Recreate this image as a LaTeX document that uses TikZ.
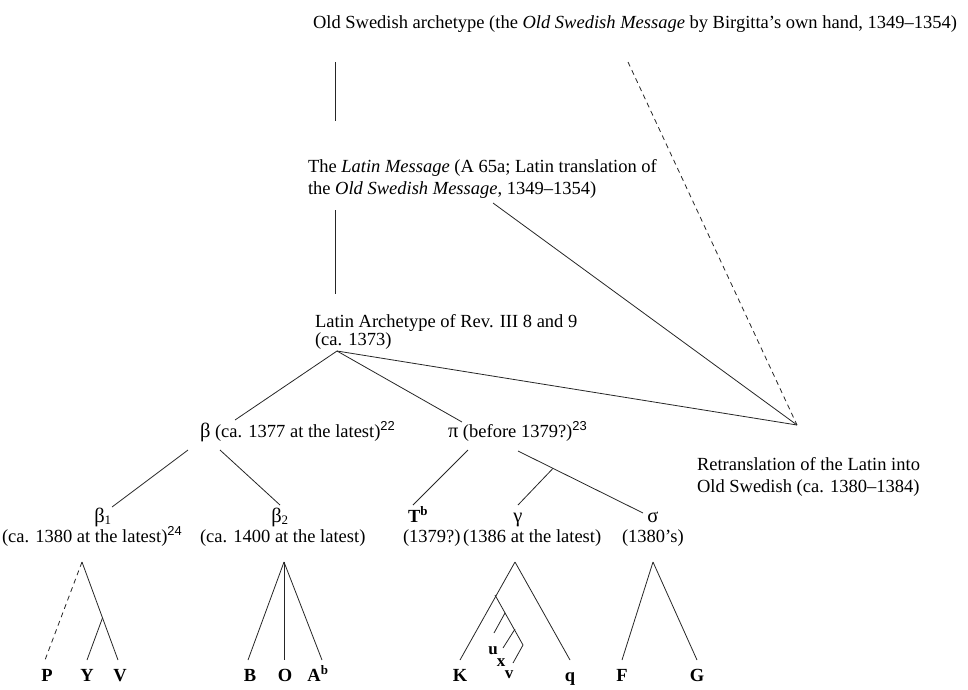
\documentclass[tikz,border=0pt]{standalone}
\usepackage{fontspec}
\setmainfont{Liberation Serif}
\newfontfamily\supfont{Liberation Sans}
\usetikzlibrary{calc}
\newcommand{\gk}[1]{{\fontsize{20.5}{22}\selectfont #1}}
\newcommand{\fn}[1]{\textsuperscript{\supfont #1}}
\begin{document}
\begin{tikzpicture}[x=1pt,y=-1pt,
  every node/.style={inner sep=0pt,outer sep=0pt},
  txt/.style={font=\fontsize{18.5}{22}\selectfont},
  leaf/.style={font=\fontsize{18.5}{20}\selectfont\bfseries,anchor=base},
  small/.style={font=\fontsize{17}{18}\selectfont\bfseries},
  ln/.style={line width=0.8pt,draw=black!85},
  dsh/.style={ln,dash pattern=on 5pt off 4pt}]
\useasboundingbox (0,0) rectangle (968,689);
% texts
\node[txt,anchor=base west] (top) at (313,28) {Old Swedish archetype (the \textit{Old Swedish Message} by Birgitta's own hand, 1349--1354)};
\node[txt,anchor=base west] (lm1) at (308,172) {The \textit{Latin Message} (A 65a; Latin translation of};
\node[txt,anchor=base west] (lm2) at (308,194) {the \textit{Old Swedish Message}, 1349--1354)};
\node[txt,anchor=base west] (la1) at (315,327) {Latin Archetype of Rev. III 8 and 9};
\node[txt,anchor=base west] (la2) at (315,345) {(ca. 1373)};
\node[txt,anchor=base west] (beta) at (200,437) {\gk{β} (ca. 1377 at the latest)\fn{22}};
\node[txt,anchor=base west] (pi) at (448,437) {\gk{π} (before 1379?)\fn{23}};
\node[txt,anchor=base west] (rt1) at (697,470) {Retranslation of the Latin into};
\node[txt,anchor=base west] (rt2) at (697,492) {Old Swedish (ca. 1380--1384)};
\node[txt,anchor=base] (b1a) at (103,522) {\gk{β}\textsubscript{1}};
\node[txt,anchor=base west] (b1b) at (2,542) {(ca. 1380 at the latest)\fn{24}};
\node[txt,anchor=base] (b2a) at (280,522) {\gk{β}\textsubscript{2}};
\node[txt,anchor=base west] (b2b) at (200,542) {(ca. 1400 at the latest)};
\node[txt,anchor=base west] (tba) at (408,522) {\textbf{T\textsuperscript{b}}};
\node[txt,anchor=base west] (tbb) at (403,542) {(1379?)};
\node[txt,anchor=base] (ga) at (518,522) {\gk{γ}};
\node[txt,anchor=base west] (gb) at (463,542) {(1386 at the latest)};
\node[txt,anchor=base] (sa) at (653,522) {\gk{σ}};
\node[txt,anchor=base west] (sb) at (622,542) {(1380's)};
% leaves
\node[leaf] (P) at (47,681) {P};
\node[leaf] (Y) at (87,681) {Y};
\node[leaf] (V) at (120,681) {V};
\node[leaf] (B) at (250,681) {B};
\node[leaf] (O) at (285,681) {O};
\node[leaf] (A) at (318,681) {A\textsuperscript{b}};
\node[leaf] (K) at (460,681) {K};
\node[leaf] (q) at (570,681) {q};
\node[leaf] (F) at (622,681) {F};
\node[leaf] (G) at (697,681) {G};
\node[small] (u) at (493,651) {u};
\node[small] (x) at (501,663) {x};
\node[small] (v) at (509,675) {v};
% connector end points
\coordinate (a1) at (335,62); \coordinate (a2) at (335,121);
\coordinate (d1) at (628,62); \coordinate (rtp) at (797,425);
\coordinate (c1) at (335,210); \coordinate (c2) at (335,294);
\coordinate (lmR) at (493,203);
\coordinate (ap) at (337,351);
\coordinate (bl) at (235,420); \coordinate (pl) at (462,422);
\coordinate (bt1) at (188,450); \coordinate (bt1e) at (112,507);
\coordinate (bt2) at (220,450); \coordinate (bt2e) at (280,505);
\coordinate (pt1) at (468,450); \coordinate (pt1e) at (413,505);
\coordinate (pt2) at (518,451); \coordinate (pt2e) at (643,513);
\coordinate (gbr) at ($(pt2)!0.28!(pt2e)$); \coordinate (gbe) at (518,505);
\coordinate (s1) at (82,562); \coordinate (Pt) at (45,660); \coordinate (Vt) at (118,660);
\coordinate (Ybr) at ($(s1)!0.57!(Vt)$); \coordinate (Yt) at (87,660);
\coordinate (s2) at (284,562); \coordinate (Bt) at (248,660); \coordinate (Ot) at (284,660); \coordinate (At) at (322,660);
\coordinate (s3) at (515,562); \coordinate (Kt) at (460,660); \coordinate (qt) at (570,660);
\coordinate (kbr) at (495,595); \coordinate (kel) at (523,645); \coordinate (ke2) at (513,663);
\coordinate (ub) at (505,613); \coordinate (ue) at (494,633);
\coordinate (xb) at (515,629); \coordinate (xe) at (503,648);
\coordinate (s4) at (653,562); \coordinate (Ft) at (622,660); \coordinate (Gt) at (697,660);
% connectors
\draw[ln] (a1) -- (a2);
\draw[dsh] (d1) -- (rtp);
\draw[ln] (c1) -- (c2);
\draw[ln] (lmR) -- (rtp);
\draw[ln] (ap) -- (bl);
\draw[ln] (ap) -- (pl);
\draw[ln] (ap) -- (rtp);
\draw[ln] (bt1) -- (bt1e);
\draw[ln] (bt2) -- (bt2e);
\draw[ln] (pt1) -- (pt1e);
\draw[ln] (pt2) -- (pt2e);
\draw[ln] (gbr) -- (gbe);
\draw[dsh] (s1) -- (Pt);
\draw[ln] (s1) -- (Vt);
\draw[ln] (Ybr) -- (Yt);
\draw[ln] (s2) -- (Bt);
\draw[ln] (s2) -- (Ot);
\draw[ln] (s2) -- (At);
\draw[ln] (s3) -- (Kt);
\draw[ln] (s3) -- (qt);
\draw[ln] (kbr) -- (kel) -- (ke2);
\draw[ln] (ub) -- (ue);
\draw[ln] (xb) -- (xe);
\draw[ln] (s4) -- (Ft);
\draw[ln] (s4) -- (Gt);
\end{tikzpicture}
\end{document}
